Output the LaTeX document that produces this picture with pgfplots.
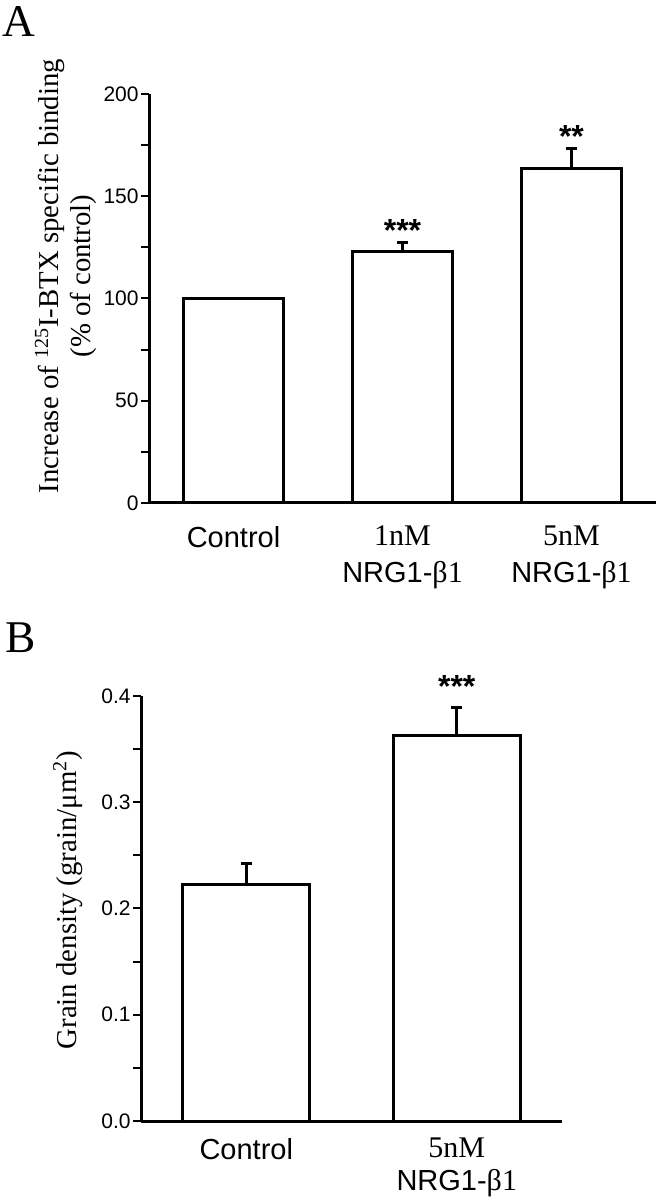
\documentclass[border=0pt]{standalone}
\usepackage{fontspec}
\setmainfont{Liberation Sans}
\newfontfamily\tnr{Liberation Serif}
\usepackage{pgfplots}
\usepackage{pgfplotstable}
\pgfplotsset{compat=1.18}
\pgfplotstableread{
x y
0 100.0
}\dataAc
\pgfplotstableread{
x y e
1 123.2 4.4
2 163.5 9.8
}\dataA
\pgfplotstableread{
x y e
0 0.223 0.019
1 0.363 0.026
}\dataB
\pgfplotsset{
  mybar/.style={
    scale only axis,
    axis x line=bottom, axis y line=left,
    axis line style={-, line width=1.5pt},
    tick align=outside,
    major tick length=4pt, minor tick length=4pt,
    tick style={black, line width=1pt},
    xtick style={draw=none},
    ymin=0, xmin=-0.5,
    /pgf/number format/assume math mode=true,
    yticklabel style={font=\fontsize{10.5}{12}\selectfont, inner sep=1pt},
    xticklabel style={font=\fontsize{14.5}{18.5}\selectfont, align=center, yshift=-4pt},
    ylabel style={font=\tnr\fontsize{14.4}{16}\selectfont, align=center},
    clip=false,
    ybar, bar shift=0pt,
  },
  mybarplot/.style={
    draw=black, fill=white, line width=1.5pt,
  },
  myerr/.style={
    error bars/.cd, y dir=plus, y explicit,
    error bar style={line width=1.5pt, black},
    error mark options={rotate=90, line width=1.5pt, mark size=2.75pt, black},
  },
}
\begin{document}
\begin{tikzpicture}
\path[use as bounding box] (0,0) rectangle (330pt,600pt);
\node[anchor=base west, font=\tnr\fontsize{22.7}{24}\selectfont, inner sep=0pt] at (1pt,581.5pt) {A};
\node[anchor=base west, font=\tnr\fontsize{22.7}{24}\selectfont, inner sep=0pt] at (2.5pt,273.5pt) {B};
\begin{axis}[mybar,
  at={(74.5pt,348.5pt)}, anchor=south west,
  width=253.5pt, height=204.5pt,
  xmax=2.5, ymax=200,
  ytick={0,50,100,150,200},
  minor ytick={25,75,125,175},
  xtick={0,1,2},
  xticklabels={Control, {{\tnr\fontsize{15}{18.5}\selectfont 1nM}\\NRG1-{\tnr\fontsize{15}{18.5}\selectfont β1}}, {{\tnr\fontsize{15}{18.5}\selectfont 5nM}\\NRG1-{\tnr\fontsize{15}{18.5}\selectfont β1}}},
  ylabel={Increase of \textsuperscript{125}I-BTX specific binding\\(\% of control)},
  ylabel style={at={(axis description cs:-0.164,0.555)}, anchor=center},
]
\addplot[bar width=50pt, mybarplot] table[x=x, y=y] {\dataAc};
\addplot[bar width=50pt, mybarplot, myerr] table[x=x, y=y, y error=e] {\dataA};
\node[anchor=base, font=\bfseries\fontsize{16}{16}\selectfont, inner sep=0pt] at (axis cs:1,128) {***};
\node[anchor=base, font=\bfseries\fontsize{16}{16}\selectfont, inner sep=0pt] at (axis cs:2,173.8) {**};
\end{axis}
\begin{axis}[mybar,
  at={(70.5pt,39.5pt)}, anchor=south west,
  width=210.5pt, height=212.5pt,
  xmax=1.5, ymax=0.4,
  ytick={0,0.1,0.2,0.3,0.4},
  minor ytick={0.05,0.15,0.25,0.35},
  yticklabel style={/pgf/number format/.cd, fixed, fixed zerofill, precision=1},
  xtick={0,1},
  xticklabel style={font=\fontsize{14.5}{16.5}\selectfont, yshift=3pt},
  xticklabels={Control, {{\tnr\fontsize{15}{16.5}\selectfont 5nM}\\NRG1-{\tnr\fontsize{15}{16.5}\selectfont β1}}},
  ylabel={Grain density (grain/μm\textsuperscript{2})},
  ylabel style={at={(axis description cs:-0.173,0.52)}, anchor=center},
]
\addplot[bar width=63.5pt, mybarplot, myerr] table[x=x, y=y, y error=e] {\dataB};
\node[anchor=base, font=\bfseries\fontsize{16}{16}\selectfont, inner sep=0pt] at (axis cs:1,0.3985) {***};
\end{axis}
\end{tikzpicture}
\end{document}
